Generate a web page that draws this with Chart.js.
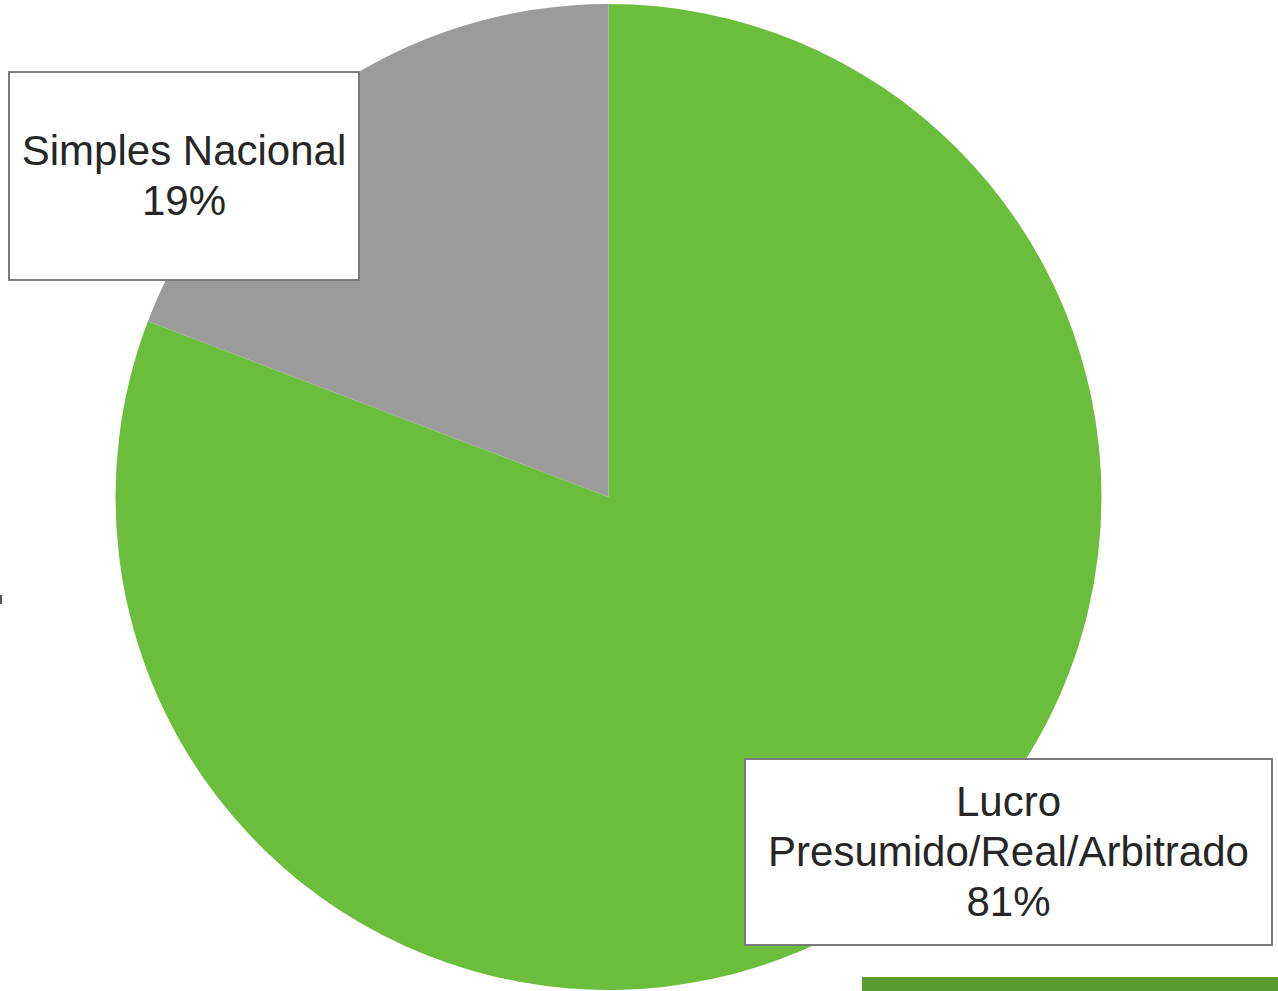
<!DOCTYPE html>
<html>
<head>
<meta charset="utf-8">
<script src="https://cdn.jsdelivr.net/npm/chart.js@4/dist/chart.umd.min.js"></script>
<style>
  html, body { margin: 0; padding: 0; background: #fff; overflow: hidden; }
  #wrap { position: relative; width: 1278px; height: 991px; }
  #grafica { position: absolute; left: 0; top: 0; }
  .etiqueta {
    position: absolute;
    background: #fff;
    border: 2px solid #7a7a7a;
    box-sizing: border-box;
    color: #262626;
    font-family: "Liberation Sans", Arial, sans-serif;
    font-size: 42px;
    line-height: 50px;
    text-align: center;
    display: flex;
    align-items: center;
    justify-content: center;
  }
  #barraVerde { position: absolute; left: 862px; top: 977px; width: 416px; height: 14px; background: #589c32; }
  #marca { position: absolute; left: 0; top: 595px; width: 2px; height: 9px; background: #555; }
</style>
</head>
<body>
<div id="wrap">
  <canvas id="grafica" width="1278" height="991"></canvas>
  <div id="etqSimples" class="etiqueta" style="left:8px; top:71px; width:352px; height:210px;"></div>
  <div id="etqLucro" class="etiqueta" style="left:744px; top:758px; width:529px; height:188px;"></div>
  <div id="barraVerde"></div>
  <div id="marca"></div>
</div>
<script>
// datos del grafico
const categorias = ["Lucro Presumido/Real/Arbitrado", "Simples Nacional"];
const lineasEtiqueta = [["Lucro", "Presumido/Real/Arbitrado"], ["Simples Nacional"]];
const valores = [80.8, 19.2];
const colores = ["#6bbe3c", "#9b9b9b"];

const ctx = document.getElementById("grafica").getContext("2d");

new Chart(ctx, {
  type: "pie",
  data: {
    labels: categorias,
    datasets: [
      {
        data: valores,
        backgroundColor: colores,
        borderWidth: 0,
      },
    ],
  },
  options: {
    responsive: false,
    animation: false,
    layout: { padding: { top: 4, bottom: 1, left: 115, right: 176 } },
    plugins: {
      legend: { display: false },
      tooltip: { enabled: false },
    },
  },
});

// etiquetas con nombre y porcentaje
const etqLucro = document.getElementById("etqLucro");
const etqSimples = document.getElementById("etqSimples");
etqLucro.innerHTML = lineasEtiqueta[0].join("<br>") + "<br>" + Math.round(valores[0]) + "%";
etqSimples.innerHTML = lineasEtiqueta[1].join("<br>") + "<br>" + Math.round(valores[1]) + "%";
</script>
</body>
</html>
